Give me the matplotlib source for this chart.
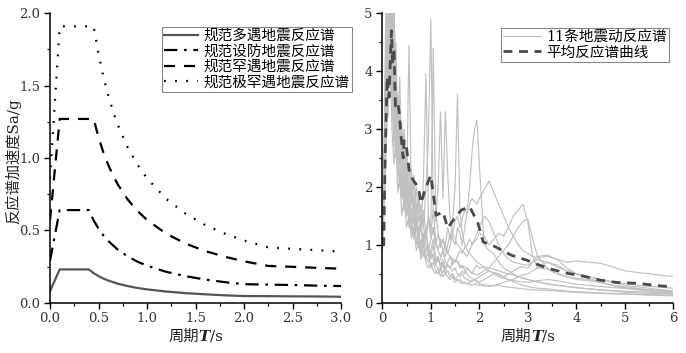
import matplotlib
matplotlib.use("Agg")
import matplotlib.pyplot as plt
from matplotlib.ticker import MultipleLocator
from matplotlib.offsetbox import TextArea, HPacker, AnchoredOffsetbox

plt.rcParams['font.family'] = ['DejaVu Serif', 'Noto Sans CJK SC']

# 规范反应谱 (左图)
T_a = [0, 0.1, 0.4, 0.45, 0.5, 0.55, 0.6, 0.7, 0.8, 0.9, 1.0, 1.2, 1.4, 1.6, 1.8, 2.0, 2.25, 2.5, 2.75, 3.0]
T_b = [0, 0.1, 0.45, 0.5, 0.55, 0.6, 0.65, 0.7, 0.8, 0.9, 1.0, 1.2, 1.4, 1.6, 1.8, 2.0, 2.25, 2.5, 2.75, 3.0]
sa_duoyu = [0.08, 0.23, 0.23, 0.204, 0.184, 0.167, 0.153, 0.131, 0.115, 0.102, 0.092, 0.077, 0.066, 0.058, 0.051, 0.046, 0.045, 0.044, 0.043, 0.041]
sa_shefang = [0.29, 0.64, 0.64, 0.569, 0.512, 0.465, 0.427, 0.366, 0.32, 0.284, 0.256, 0.213, 0.183, 0.16, 0.142, 0.128, 0.125, 0.122, 0.118, 0.115]
sa_hanyu = [0.57, 1.27, 1.27, 1.143, 1.039, 0.953, 0.879, 0.816, 0.714, 0.635, 0.572, 0.476, 0.408, 0.357, 0.318, 0.286, 0.254, 0.248, 0.241, 0.235]
sa_jihanyu = [0.86, 1.91, 1.91, 1.719, 1.563, 1.433, 1.322, 1.228, 1.074, 0.955, 0.86, 0.716, 0.614, 0.537, 0.478, 0.43, 0.382, 0.372, 0.363, 0.353]
labels_left = ['规范多遇地震反应谱', '规范设防地震反应谱', '规范罕遇地震反应谱', '规范极罕遇地震反应谱']

# 11条地震动反应谱 (右图)
T_gm = [0, 0.04, 0.08, 0.12, 0.16, 0.2, 0.24, 0.28, 0.32, 0.36, 0.4, 0.45, 0.5,
        0.55, 0.6, 0.65, 0.7, 0.75, 0.8, 0.85, 0.9, 0.95, 1.0, 1.05, 1.1, 1.15,
        1.2, 1.25, 1.3, 1.35, 1.4, 1.45, 1.5, 1.55, 1.6, 1.65, 1.7, 1.75, 1.8,
        1.85, 1.9, 1.95, 2.0, 2.1, 2.2, 2.3, 2.4, 2.5, 2.6, 2.7, 2.8, 2.9,
        3.0, 3.1, 3.2, 3.4, 3.6, 3.8, 4.0, 4.25, 4.5, 4.75, 5.0, 5.5, 6.0]
gm1 = [1.0, 1.9, 3.6, 5.8, 4.9, 3.4, 5.2, 3.0, 3.6, 2.4, 3.1, 2.2, 2.6,
       1.9, 2.3, 1.6, 2.0, 1.4, 1.7, 1.3, 2.0, 2.8, 4.9, 1.6, 1.1, 0.9,
       0.8, 0.9, 0.7, 0.65, 0.6, 0.55, 0.6, 0.5, 0.45, 0.5, 0.42, 0.4, 0.38,
       0.36, 0.4, 0.35, 0.33, 0.31, 0.3, 0.29, 0.3, 0.28, 0.27, 0.26, 0.25, 0.24,
       0.23, 0.22, 0.22, 0.21, 0.2, 0.19, 0.18, 0.17, 0.16, 0.15, 0.15, 0.14, 0.13]
gm2 = [1.1, 2.6, 4.4, 3.5, 6.0, 4.4, 3.4, 4.5, 3.0, 3.9, 2.5, 3.0, 2.0,
       2.4, 1.7, 2.1, 1.5, 1.8, 1.3, 2.2, 3.95, 1.5, 1.3, 4.4, 1.6, 1.2,
       1.0, 1.1, 0.9, 0.85, 0.8, 0.75, 0.7, 0.72, 0.65, 0.6, 0.62, 0.58, 0.55,
       0.52, 0.5, 0.48, 0.5, 0.55, 0.6, 0.58, 0.55, 0.52, 0.5, 0.48, 0.45, 0.42,
       0.4, 0.38, 0.36, 0.33, 0.3, 0.28, 0.26, 0.24, 0.22, 0.21, 0.2, 0.18, 0.17]
gm3 = [0.9, 2.4, 4.8, 5.5, 4.0, 5.6, 3.7, 4.2, 2.8, 3.2, 2.2, 2.7, 1.9,
       4.45, 1.8, 2.2, 1.6, 1.9, 1.3, 1.6, 1.2, 1.5, 1.1, 1.3, 1.0, 1.2,
       0.95, 1.1, 1.0, 1.3, 1.1, 1.4, 2.0, 3.6, 1.6, 1.2, 1.0, 0.9, 0.85,
       0.8, 0.75, 0.7, 0.68, 0.6, 0.55, 0.5, 0.45, 0.42, 0.4, 0.38, 0.37, 0.36,
       0.35, 0.36, 0.38, 0.4, 0.38, 0.35, 0.32, 0.3, 0.28, 0.26, 0.25, 0.22, 0.2]
gm4 = [1.0, 2.0, 3.2, 4.6, 3.8, 5.4, 4.1, 2.9, 3.4, 2.5, 2.0, 2.4, 1.7,
       2.0, 1.5, 1.8, 1.3, 1.1, 1.4, 1.0, 1.2, 0.9, 1.1, 1.3, 1.0, 0.9,
       1.1, 0.9, 0.8, 1.0, 1.2, 1.1, 1.0, 1.3, 1.2, 1.0, 1.3, 1.6, 2.0,
       2.6, 3.0, 3.15, 2.4, 1.0, 0.9, 0.85, 0.7, 0.6, 0.55, 0.5, 0.45, 0.42,
       0.4, 0.38, 0.36, 0.32, 0.3, 0.28, 0.26, 0.24, 0.22, 0.2, 0.18, 0.16, 0.15]
gm5 = [1.2, 3.0, 5.5, 4.2, 4.8, 3.6, 4.4, 3.1, 2.6, 3.0, 2.3, 1.8, 2.2,
       1.6, 1.9, 1.4, 1.6, 1.2, 1.5, 1.3, 1.1, 1.4, 1.2, 1.6, 1.4, 2.0,
       3.3, 1.8, 3.3, 2.2, 1.4, 1.2, 1.1, 1.0, 0.95, 0.9, 0.85, 0.8, 0.9,
       1.0, 1.1, 1.2, 1.3, 1.5, 1.4, 1.2, 1.0, 0.85, 0.75, 0.7, 0.68, 0.66,
       0.65, 0.7, 0.75, 0.7, 0.62, 0.55, 0.5, 0.45, 0.4, 0.36, 0.33, 0.28, 0.25]
gm6 = [0.95, 2.2, 4.0, 3.2, 5.2, 4.6, 3.6, 2.8, 3.3, 2.0, 2.6, 1.9, 1.5,
       1.8, 1.4, 1.2, 1.5, 1.1, 0.9, 1.2, 1.0, 0.8, 0.9, 1.1, 0.8, 0.7,
       0.75, 0.9, 1.0, 0.85, 1.0, 1.2, 1.4, 1.5, 1.3, 1.45, 1.6, 1.55, 1.7,
       1.8, 1.75, 1.7, 1.8, 1.95, 2.1, 1.9, 1.7, 1.5, 1.3, 1.15, 1.0, 0.9,
       0.85, 0.8, 0.78, 0.8, 0.75, 0.7, 0.72, 0.7, 0.68, 0.62, 0.55, 0.5, 0.45]
gm7 = [1.0, 1.8, 3.0, 4.5, 5.1, 3.9, 3.0, 3.6, 2.4, 2.0, 2.5, 1.6, 2.0,
       1.3, 1.6, 1.1, 1.4, 1.0, 0.9, 1.2, 0.8, 0.7, 0.9, 0.75, 0.65, 0.8,
       0.6, 0.7, 0.55, 0.65, 0.6, 0.75, 0.7, 0.8, 0.9, 0.85, 0.95, 1.0, 1.1,
       1.0, 1.05, 1.1, 1.2, 1.15, 1.0, 1.1, 1.2, 1.15, 1.3, 1.5, 1.6, 1.7,
       1.4, 0.8, 0.6, 0.7, 0.65, 0.55, 0.5, 0.45, 0.4, 0.35, 0.3, 0.25, 0.2]
gm8 = [1.05, 2.5, 3.4, 5.0, 4.3, 3.5, 2.7, 3.9, 2.2, 2.9, 1.8, 2.2, 1.5,
       1.7, 1.2, 1.5, 1.0, 1.3, 0.8, 1.0, 0.75, 0.9, 0.6, 0.7, 0.55, 0.5,
       0.6, 0.45, 0.5, 0.55, 0.45, 0.5, 0.4, 0.45, 0.5, 0.55, 0.5, 0.6, 0.55,
       0.5, 0.6, 0.65, 0.6, 0.62, 0.6, 0.7, 0.8, 0.9, 1.0, 1.15, 1.3, 1.4,
       1.45, 1.1, 0.8, 0.6, 0.5, 0.45, 0.4, 0.38, 0.35, 0.3, 0.27, 0.22, 0.18]
gm9 = [0.9, 1.6, 2.6, 3.8, 4.2, 3.0, 2.4, 2.8, 1.9, 2.2, 1.5, 1.8, 1.3,
       1.5, 1.1, 1.3, 0.9, 1.0, 0.75, 0.9, 0.7, 0.6, 0.7, 0.55, 0.5, 0.6,
       0.45, 0.55, 0.5, 0.45, 0.4, 0.45, 0.35, 0.4, 0.35, 0.33, 0.35, 0.32, 0.35,
       0.38, 0.4, 0.42, 0.45, 0.5, 0.55, 0.52, 0.5, 0.45, 0.4, 0.36, 0.33, 0.3,
       0.28, 0.26, 0.25, 0.24, 0.22, 0.2, 0.19, 0.18, 0.17, 0.16, 0.15, 0.13, 0.12]
gm10 = [1.1, 2.3, 3.9, 5.3, 3.7, 4.5, 5.5, 3.2, 2.7, 3.5, 2.6, 2.0, 2.5,
        1.8, 2.1, 1.6, 1.4, 1.7, 1.2, 1.0, 1.3, 0.9, 0.8, 1.0, 0.7, 0.8,
        0.65, 0.75, 0.6, 0.7, 0.8, 0.65, 0.75, 0.7, 0.6, 0.65, 0.55, 0.5, 0.45,
        0.42, 0.4, 0.38, 0.36, 0.4, 0.45, 0.5, 0.48, 0.45, 0.5, 0.55, 0.6, 0.62,
        0.6, 0.7, 0.8, 0.82, 0.75, 0.6, 0.5, 0.42, 0.36, 0.3, 0.27, 0.22, 0.19]
gm11 = [1.0, 2.1, 3.5, 4.1, 5.6, 4.0, 3.3, 2.5, 3.0, 2.7, 2.1, 1.6, 1.9,
        1.4, 1.2, 1.6, 1.1, 0.95, 1.1, 0.8, 0.9, 1.0, 0.75, 0.85, 0.65, 0.6,
        0.55, 0.65, 0.5, 0.55, 0.45, 0.5, 0.42, 0.38, 0.4, 0.36, 0.34, 0.33, 0.32,
        0.3, 0.33, 0.31, 0.3, 0.29, 0.28, 0.3, 0.32, 0.35, 0.38, 0.4, 0.45, 0.48,
        0.5, 0.55, 0.6, 0.58, 0.5, 0.45, 0.42, 0.4, 0.35, 0.3, 0.25, 0.2, 0.15]
gm_all = [gm1, gm2, gm3, gm4, gm5, gm6, gm7, gm8, gm9, gm10, gm11]

# 平均反应谱曲线
T_mean = [0, 0.03, 0.06, 0.1, 0.14, 0.17, 0.19, 0.21, 0.24, 0.27, 0.32, 0.35, 0.39,
          0.43, 0.45, 0.49, 0.56, 0.65, 0.74, 0.8, 0.88, 0.95, 1.0, 1.11, 1.25,
          1.35, 1.49, 1.63, 1.8, 1.97, 2.08, 2.32, 2.66, 2.96, 3.39, 3.8, 4.14,
          4.49, 4.83, 5.25, 5.58, 6.0]
sa_mean = [1.0, 1.0, 2.6, 3.9, 3.55, 4.3, 4.7, 4.1, 4.4, 3.4, 3.46, 3.27, 2.85,
           2.5, 2.8, 2.75, 2.24, 2.1, 2.0, 1.72, 1.95, 2.1, 2.2, 1.51, 1.57,
           1.29, 1.46, 1.6, 1.66, 1.38, 1.05, 0.97, 0.82, 0.74, 0.6, 0.51, 0.46,
           0.39, 0.35, 0.335, 0.305, 0.27]


def period_label(ax):
    # 周期T/s, T 用粗斜体
    fs = 11
    parts = [TextArea('周期', textprops=dict(fontsize=fs, color='#222222')),
             TextArea('T', textprops=dict(fontsize=fs, fontweight='bold', fontstyle='italic',
                                          family='DejaVu Serif', color='#222222')),
             TextArea('/s', textprops=dict(fontsize=fs, color='#222222'))]
    box = HPacker(children=parts, align='baseline', pad=0, sep=0)
    anc = AnchoredOffsetbox(loc='center', child=box, pad=0, borderpad=0, frameon=False,
                            bbox_to_anchor=(0.5, -0.118), bbox_transform=ax.transAxes)
    ax.add_artist(anc)


fig = plt.figure(figsize=(6.86, 3.53), dpi=100)
ax1 = fig.add_axes([0.0729, 0.1425, 0.4242, 0.8198])
ax2 = fig.add_axes([0.5573, 0.1425, 0.4242, 0.8198])

lw = 1.6
ax1.plot(T_a, sa_duoyu, color='#555555', lw=lw, label=labels_left[0])
ax1.plot(T_a, sa_shefang, color='black', lw=lw, linestyle=(0, (6, 3, 1.2, 3)), label=labels_left[1])
ax1.plot(T_b, sa_hanyu, color='black', lw=lw, linestyle=(0, (5, 4)), label=labels_left[2])
ax1.plot(T_b, sa_jihanyu, color='black', lw=lw, linestyle=(0, (0.8, 4.2)), label=labels_left[3])
ax1.set_xlim(0, 3.0)
ax1.set_ylim(0, 2.0)
ax1.xaxis.set_major_locator(MultipleLocator(0.5))
ax1.xaxis.set_minor_locator(MultipleLocator(0.25))
ax1.yaxis.set_major_locator(MultipleLocator(0.5))
ax1.yaxis.set_minor_locator(MultipleLocator(0.25))
ax1.xaxis.set_major_formatter(lambda v, p: f'{v:.1f}')
ax1.yaxis.set_major_formatter(lambda v, p: f'{v:.1f}')
ax1.set_ylabel('反应谱加速度Sa/g', fontsize=11, color='#222222')
ax1.yaxis.label.set_va('center')
ax1.yaxis.set_label_coords(-0.128, 0.49)
period_label(ax1)
leg1 = ax1.legend(loc='upper right', bbox_to_anchor=(0.513, 0.924), bbox_transform=fig.transFigure,
                  fontsize=10.5, handlelength=2.3, handletextpad=0.4, labelspacing=0.1,
                  borderpad=0.15, borderaxespad=0, fancybox=False, framealpha=1)
leg1.get_frame().set_edgecolor('#888888')
leg1.get_frame().set_linewidth(0.8)

for i, s in enumerate(gm_all):
    ax2.plot(T_gm, s, color='#c0c0c0', lw=0.85, label='11条地震动反应谱' if i == 0 else None)
ax2.plot(T_mean, sa_mean, color='#4a4a4a', lw=2.0, dashes=(3.2, 2.4), label='平均反应谱曲线')
ax2.set_xlim(0, 6)
ax2.set_ylim(0, 5)
ax2.xaxis.set_major_locator(MultipleLocator(1))
ax2.xaxis.set_minor_locator(MultipleLocator(0.5))
ax2.yaxis.set_major_locator(MultipleLocator(1))
ax2.yaxis.set_minor_locator(MultipleLocator(0.5))
period_label(ax2)
leg2 = ax2.legend(loc='upper right', bbox_to_anchor=(0.9757, 0.921), bbox_transform=fig.transFigure,
                  fontsize=10.5, handlelength=2.6, handletextpad=0.4, labelspacing=0.1,
                  borderpad=0.15, borderaxespad=0, fancybox=False, framealpha=1)
leg2.get_frame().set_edgecolor('#888888')
leg2.get_frame().set_linewidth(0.8)

for ax in (ax1, ax2):
    ax.spines['top'].set_visible(False)
    ax.spines['right'].set_visible(False)
    ax.spines['left'].set_linewidth(1.1)
    ax.spines['bottom'].set_linewidth(1.1)
    ax.tick_params(which='major', direction='out', length=4, width=1.0, labelsize=9.5,
                   colors='black', labelcolor='#333333', pad=3)
    ax.tick_params(which='minor', direction='out', length=2.5, width=0.9)

fig.savefig('out.png', dpi=100)
